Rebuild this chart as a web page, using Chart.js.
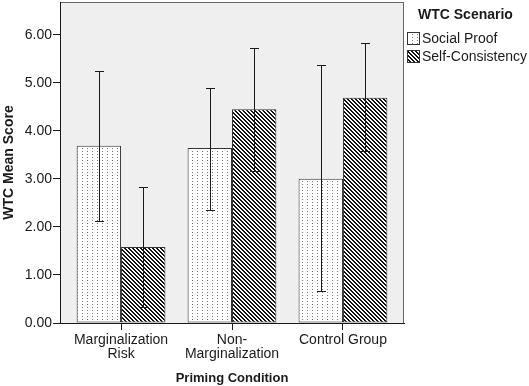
<!DOCTYPE html>
<html>
<head>
<meta charset="utf-8">
<script src="https://cdn.jsdelivr.net/npm/chart.js@4.4.0/dist/chart.umd.min.js"></script>
<style>
  html, body { margin: 0; padding: 0; background: #fff; }
  #wrap { width: 529px; height: 386px; }
</style>
</head>
<body>
<div id="wrap"><canvas id="chart" width="529" height="386"></canvas></div>
<script>
// values
const CATEGORIES = [['Marginalization', 'Risk'], ['Non-', 'Marginalization'], 'Control Group'];
const SERIES = ['Social Proof', 'Self-Consistency'];
const SOCIAL_MEAN = [3.69, 3.64, 3.00];
const SOCIAL_LOW  = [2.12, 2.36, 0.66];
const SOCIAL_HIGH = [5.25, 4.89, 5.36];
const SELF_MEAN = [1.58, 4.45, 4.69];
const SELF_LOW  = [0.33, 3.17, 3.57];
const SELF_HIGH = [2.84, 5.72, 5.82];
const Y_TICKS = [0, 1, 2, 3, 4, 5, 6];

const FONT = "'Liberation Sans', Arial, sans-serif";
const INK = '#1a1a1a';

// fill patterns (dotted / back-slash hatch)
function makePattern(kind) {
  const c = document.createElement('canvas');
  const w = kind === 'dots' ? 5 : 4;
  const h = kind === 'dots' ? 3 : 4;
  c.width = w; c.height = h;
  const g = c.getContext('2d');
  g.fillStyle = '#fff';
  g.fillRect(0, 0, w, h);
  if (kind === 'dots') {
    g.fillStyle = '#767676';
    g.fillRect(2, 1, 1, 1);
  } else {
    g.fillStyle = '#111';
    for (let i = 0; i < 4; i++) {
      g.fillRect(i, i, 1, 1);
      g.fillRect((i + 1) % 4, i, 1, 1);
    }
  }
  return g.createPattern(c, 'repeat');
}
const dotFill = makePattern('dots');
const hatchFill = makePattern('hatch');

const toPoints = arr => arr.map((v, i) => ({ x: i, y: v }));

const plotBg = {
  id: 'plotBg',
  beforeDraw(chart) {
    const { ctx, chartArea: a } = chart;
    ctx.save();
    ctx.fillStyle = '#efefef';
    ctx.fillRect(a.left, a.top, a.right - a.left, a.bottom - a.top);
    ctx.strokeStyle = '#666';
    ctx.lineWidth = 1;
    ctx.strokeRect(a.left + 0.5, a.top + 0.5, a.right - a.left - 1, a.bottom - a.top);
    ctx.restore();
  }
};

const errorBars = {
  id: 'errorBars',
  afterDatasetsDraw(chart) {
    const { ctx } = chart;
    const y = chart.scales.y;
    const lows = [SOCIAL_LOW, SELF_LOW];
    const highs = [SOCIAL_HIGH, SELF_HIGH];
    ctx.save();
    ctx.strokeStyle = INK;
    ctx.lineWidth = 1;
    chart.data.datasets.forEach((ds, di) => {
      chart.getDatasetMeta(di).data.forEach((bar, i) => {
        const x = Math.round(bar.x) + 0.5;
        const yt = Math.round(y.getPixelForValue(highs[di][i])) + 0.5;
        const yb = Math.round(y.getPixelForValue(lows[di][i])) + 0.5;
        ctx.beginPath();
        ctx.moveTo(x, yt); ctx.lineTo(x, yb);
        ctx.moveTo(x - 4.5, yt); ctx.lineTo(x + 4.5, yt);
        ctx.moveTo(x - 4.5, yb); ctx.lineTo(x + 4.5, yb);
        ctx.stroke();
      });
    });
    ctx.restore();
  }
};

const sideLegend = {
  id: 'sideLegend',
  afterDraw(chart) {
    const { ctx } = chart;
    const fills = [dotFill, hatchFill];
    ctx.save();
    ctx.fillStyle = INK;
    ctx.textBaseline = 'middle';
    ctx.font = 'bold 14px ' + FONT;
    ctx.fillText('WTC Scenario', 418, 15);
    ctx.font = '14px ' + FONT;
    SERIES.forEach((name, i) => {
      const top = 32 + i * 18;
      ctx.fillStyle = fills[i];
      ctx.fillRect(407, top, 13, 13);
      ctx.strokeStyle = '#333';
      ctx.strokeRect(407.5, top + 0.5, 12, 12);
      ctx.fillStyle = INK;
      ctx.fillText(name, 422, top + 7);
    });
    ctx.restore();
  }
};

new Chart(document.getElementById('chart'), {
  type: 'bar',
  data: {
    datasets: [
      {
        label: SERIES[0],
        data: toPoints(SOCIAL_MEAN),
        backgroundColor: dotFill,
        borderColor: '#333',
        borderWidth: 1,
        borderSkipped: false
      },
      {
        label: SERIES[1],
        data: toPoints(SELF_MEAN),
        backgroundColor: hatchFill,
        borderColor: '#333',
        borderWidth: 1,
        borderSkipped: false
      }
    ]
  },
  options: {
    responsive: false,
    animation: false,
    devicePixelRatio: 1,
    layout: { padding: { top: 2, right: 125, left: 0, bottom: 0 } },
    datasets: { bar: { categoryPercentage: 0.8, barPercentage: 1.0 } },
    plugins: {
      legend: { display: false },
      tooltip: { enabled: false }
    },
    scales: {
      x: {
        type: 'linear',
        min: -0.55,
        max: 2.55,
        offset: false,
        afterBuildTicks: s => { s.ticks = CATEGORIES.map((c, i) => ({ value: i })); },
        afterFit: s => { s.height = 63; s.paddingLeft = 0; s.paddingRight = 0; },
        grid: { display: true, drawOnChartArea: false, drawTicks: true, tickLength: 7, color: INK, offset: false },
        border: { display: true, color: INK },
        ticks: {
          color: INK,
          padding: 3,
          maxRotation: 0,
          autoSkip: false,
          font: { family: FONT, size: 14, lineHeight: 1.0 },
          callback: v => CATEGORIES[v]
        },
        title: {
          display: true,
          text: 'Priming Condition',
          color: INK,
          font: { family: FONT, size: 13, weight: 'bold' },
          padding: { top: 8, bottom: 0 }
        }
      },
      y: {
        min: 0,
        max: 6.68,
        afterBuildTicks: s => { s.ticks = Y_TICKS.map(v => ({ value: v })); },
        afterFit: s => { s.width = 60; s.paddingTop = 0; s.paddingBottom = 0; },
        grid: { display: true, drawOnChartArea: false, drawTicks: true, tickLength: 7, color: INK },
        border: { display: true, color: INK },
        ticks: {
          color: INK,
          padding: 1,
          font: { family: FONT, size: 14 },
          callback: v => v.toFixed(2)
        },
        title: {
          display: true,
          text: 'WTC Mean Score',
          color: INK,
          font: { family: FONT, size: 14, weight: 'bold' },
          padding: { top: 1, bottom: 6 }
        }
      }
    }
  },
  plugins: [plotBg, errorBars, sideLegend]
});
</script>
</body>
</html>
